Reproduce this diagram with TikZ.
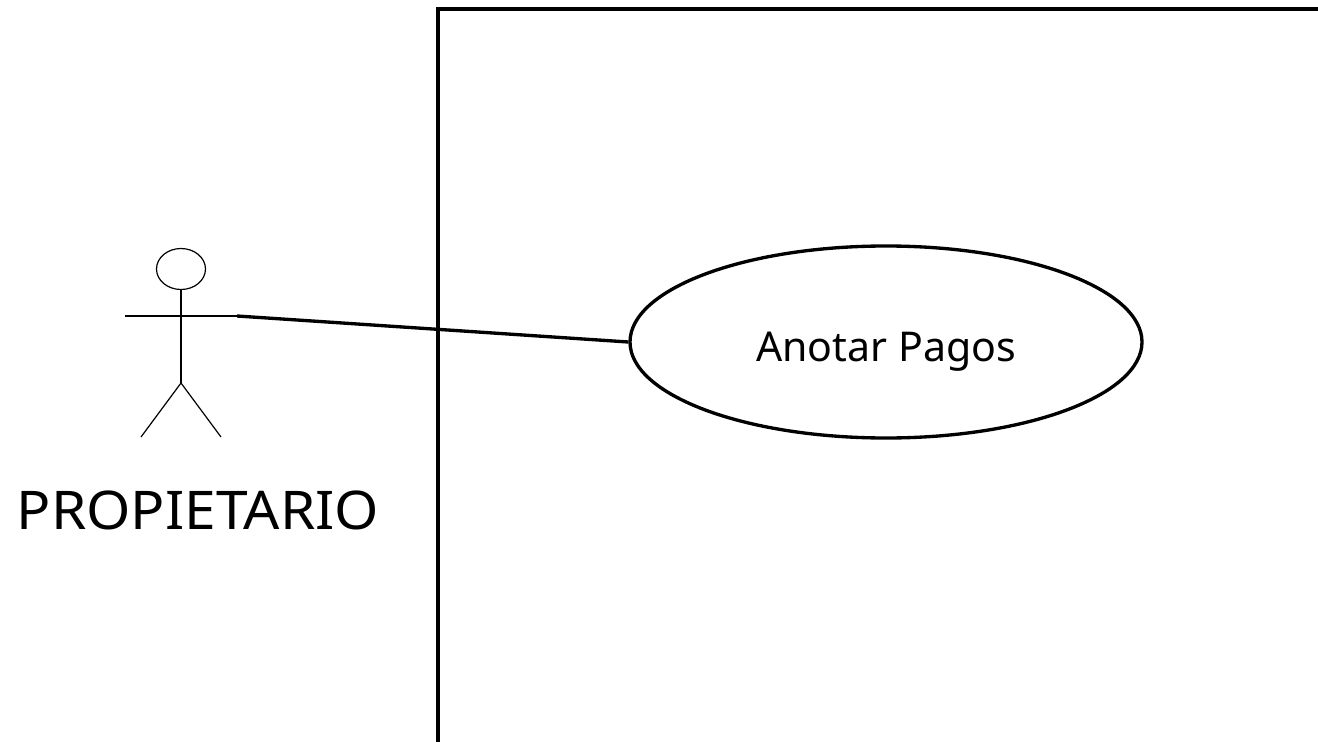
\documentclass[tikz,border=0pt]{standalone}
\usepackage{fontspec}
\setmainfont{Noto Sans}
\usetikzlibrary{shapes.geometric}
\tikzset{
  frameline/.style={draw=black,line width=3pt},
  thickline/.style={draw=black,line width=2.5pt},
  thinline/.style={draw=black,line width=0.9pt},
  usecase/.style={ellipse,thickline,minimum width=384pt,minimum height=144pt,inner sep=0pt},
  casetext/.style={font=\fontsize{30.8}{36}\selectfont,anchor=base,inner sep=0pt},
  actortext/.style={font=\fontsize{40}{46}\selectfont,anchor=base,inner sep=0pt},
}
\begin{document}
\begin{tikzpicture}[x=0.75pt,y=-0.75pt]
\useasboundingbox (0,0) rectangle (1318,742);
\fill[white] (0,0) rectangle (1318,742);
\draw[frameline] (438,742) -- (438,9) -- (1318,9);
\node[usecase] (uc) at (886,342) {};
\node[casetext] (uct) at (886,361) {Anotar Pagos};
% actor
\coordinate (headc) at (181,269);
\coordinate (neck) at (181,289.5);
\coordinate (hip) at (181,383);
\coordinate (hand) at (237,316);
\coordinate (lhand) at (125,316);
\coordinate (lfoot) at (141,437);
\coordinate (rfoot) at (221,437);
\draw[thinline] (headc) circle[x radius=24.5,y radius=20.5];
\draw[thinline] (neck) -- (hip);
\draw[thinline] (lhand) -- (hand);
\draw[thinline] (lfoot) -- (hip) -- (rfoot);
\draw[thickline] (hand) -- (uc.west);
\node[actortext] (lbl) at (198,529) {\scalebox{1.066}[1]{PROPIETARIO}};
\end{tikzpicture}
\end{document}
